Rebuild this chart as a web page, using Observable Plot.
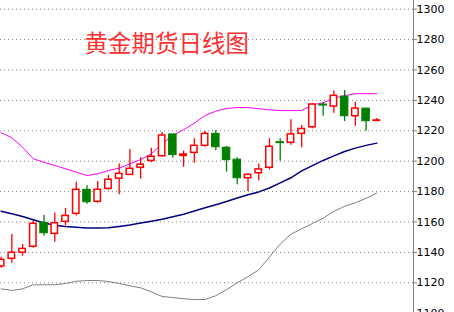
<!DOCTYPE html>
<html>
<head>
<meta charset="utf-8">
<script src="https://cdn.jsdelivr.net/npm/d3@7"></script>
<script src="https://cdn.jsdelivr.net/npm/@observablehq/plot@0.6"></script>
<style>
  html, body { margin: 0; padding: 0; background: #ffffff; }
  #chart svg { display: block; }
</style>
</head>
<body>
<div id="chart"></div>
<script>
const title = "黄金期货日线图";

const open  = [1130.8, 1135.8, 1139.8, 1143.7, 1159.5, 1152.2, 1160.1, 1165.4, 1181.2, 1173.3,
               1181.8, 1188.5, 1191.0, 1195.7, 1200.2, 1203.3, 1217.6, 1203.5, 1205.5, 1210.1,
               1218.0, 1208.9, 1201.0, 1188.8, 1192.1, 1195.7, 1212.5, 1212.1, 1218.0, 1222.3,
               1237.3, 1236.0, 1242.5, 1229.6, 1234.6, 1226.5];
const high  = [1136.8, 1151.8, 1145.2, 1160.5, 1164.4, 1166.0, 1168.9, 1186.2, 1184.0, 1186.7,
               1190.6, 1198.2, 1207.7, 1202.2, 1208.5, 1219.1, 1218.0, 1206.6, 1214.8, 1219.6,
               1220.2, 1209.7, 1202.2, 1191.8, 1198.2, 1214.8, 1214.8, 1227.2, 1223.5, 1237.8,
               1238.6, 1246.1, 1246.4, 1238.8, 1234.6, 1228.1];
const low   = [1129.6, 1132.8, 1137.5, 1142.7, 1150.6, 1146.6, 1157.5, 1163.9, 1171.7, 1172.3,
               1180.9, 1177.9, 1191.0, 1188.2, 1199.0, 1202.6, 1202.0, 1196.0, 1198.7, 1209.2,
               1206.9, 1192.8, 1184.5, 1180.0, 1187.2, 1194.3, 1200.0, 1210.5, 1208.9, 1221.3,
               1229.6, 1231.6, 1226.1, 1223.0, 1219.7, 1226.5];
const close = [1135.1, 1139.8, 1142.3, 1158.8, 1152.6, 1159.2, 1164.0, 1181.2, 1173.0, 1181.2,
               1187.8, 1191.7, 1195.0, 1197.7, 1202.9, 1216.9, 1204.0, 1204.4, 1210.1, 1218.0,
               1209.2, 1200.7, 1188.8, 1191.0, 1194.6, 1209.5, 1211.9, 1217.6, 1221.2, 1237.3,
               1236.6, 1243.0, 1229.6, 1234.6, 1226.3, 1226.8];

const upper  = [1218.8, 1215.4, 1209.2, 1201.6, 1199.3, 1197.2, 1195.0, 1192.8, 1190.6, 1191.7,
                1193.9, 1195.4, 1198.2, 1201.1, 1204.9, 1211.5, 1216.9, 1220.7, 1225.0, 1230.1,
                1232.9, 1234.7, 1235.3, 1235.3, 1234.5, 1233.8, 1233.3, 1233.3, 1233.3, 1237.1,
                1238.4, 1241.5, 1243.2, 1244.4, 1244.4, 1244.4];
const middle = [1167.1, 1165.4, 1163.6, 1161.5, 1159.3, 1157.9, 1157.0, 1156.5, 1156.1, 1156.1,
                1156.2, 1157.1, 1158.0, 1159.3, 1160.5, 1161.8, 1163.4, 1165.1, 1167.2, 1169.4,
                1171.4, 1173.5, 1175.8, 1177.9, 1179.8, 1182.4, 1185.7, 1189.1, 1193.6, 1197.1,
                1200.5, 1203.5, 1206.4, 1208.6, 1210.4, 1211.9];
const lower  = [1116.0, 1115.0, 1116.0, 1118.7, 1118.7, 1118.7, 1119.5, 1121.0, 1121.5, 1121.5,
                1120.8, 1119.6, 1118.0, 1116.7, 1114.0, 1111.0, 1110.3, 1109.5, 1109.0, 1109.0,
                1111.5, 1115.5, 1120.0, 1124.0, 1128.5, 1137.0, 1145.5, 1152.0, 1155.5, 1159.0,
                1162.5, 1167.0, 1170.3, 1172.6, 1175.6, 1179.0];

const yTicks = [1100, 1120, 1140, 1160, 1180, 1200, 1220, 1240, 1260, 1280, 1300];

const candles = open.map((o, i) => ({i, open: o, high: high[i], low: low[i], close: close[i], up: close[i] >= o}));
const bands = upper.map((u, i) => ({i, upper: u, middle: middle[i], lower: lower[i]}));
const redC = candles.filter(d => d.up);
const greenC = candles.filter(d => !d.up);

const chart = Plot.plot({
  width: 454,
  height: 312,
  marginLeft: 0,
  marginRight: 41,
  marginTop: 0,
  marginBottom: 0,
  style: {fontFamily: "DejaVu Sans", fontSize: "11px", background: "#ffffff", overflow: "hidden"},
  x: {domain: [-0.056, 38.416], axis: null},
  y: {domain: [1100.46, 1305.72], axis: null},
  marks: [
    Plot.gridY(yTicks, {stroke: "#808080", strokeOpacity: 1, strokeWidth: 1, strokeDasharray: "1,3"}),
    Plot.line(bands, {x: "i", y: "lower", stroke: "#808080", strokeWidth: 1}),
    Plot.line(bands, {x: "i", y: "middle", stroke: "#000080", strokeWidth: 1.5}),
    Plot.line(bands, {x: "i", y: "upper", stroke: "#ff00ff", strokeWidth: 1}),
    Plot.ruleX(redC, {x: "i", y1: "low", y2: "high", stroke: "#ff0000", strokeWidth: 1.3}),
    Plot.ruleX(greenC, {x: "i", y1: "low", y2: "high", stroke: "#008000", strokeWidth: 1.3}),
    Plot.rect(redC, {x1: d => d.i - 0.3, x2: d => d.i + 0.3, y1: "open", y2: "close",
                     fill: "#ffffff", stroke: "#ff0000", strokeWidth: 1.5}),
    Plot.rect(greenC, {x1: d => d.i - 0.35, x2: d => d.i + 0.35, y1: "open", y2: "close",
                       fill: "#008000", stroke: "#008000", strokeWidth: 1}),
    Plot.ruleX([38.416], {stroke: "#808080", strokeWidth: 1}),
    Plot.axisY(yTicks, {anchor: "right", tickSize: 3, tickPadding: 0, stroke: "#808080",
                        fill: "#000000", fontSize: 11, label: null, tickFormat: d => String(d)}),
    Plot.text([title], {frameAnchor: "top-left", dx: 84, dy: 44, text: d => d,
                        fill: "#ff3030", fontSize: 23.5, fontFamily: "Noto Sans CJK SC",
                        textAnchor: "start", lineAnchor: "middle"})
  ]
});
document.getElementById("chart").appendChild(chart);
</script>
</body>
</html>
